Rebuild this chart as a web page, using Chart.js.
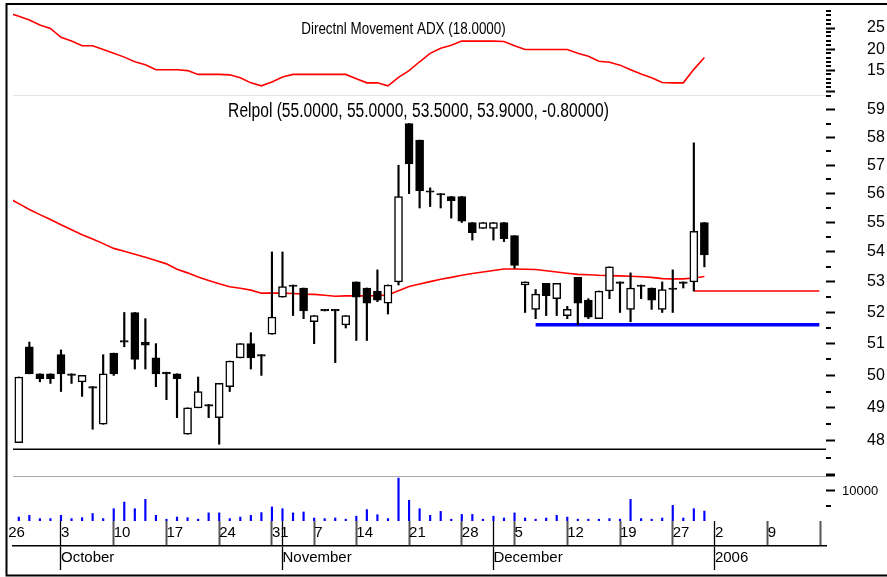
<!DOCTYPE html>
<html>
<head>
<meta charset="utf-8">
<title>Relpol</title>
<script src="https://cdn.jsdelivr.net/npm/chart.js@4.4.1/dist/chart.umd.min.js"></script>
<style>
html, body { margin: 0; padding: 0; background: #fff; }
#myChart { display: block; }
</style>
</head>
<body>
<canvas id="myChart" width="887" height="577"></canvas>
<script>
// trading days (x value = position in this list)
var dates = [
    '2005-09-26', '2005-09-27', '2005-09-28', '2005-09-29', '2005-09-30',
    '2005-10-03', '2005-10-04', '2005-10-05', '2005-10-06', '2005-10-07',
    '2005-10-10', '2005-10-11', '2005-10-12', '2005-10-13', '2005-10-14',
    '2005-10-17', '2005-10-18', '2005-10-19', '2005-10-20', '2005-10-21',
    '2005-10-24', '2005-10-25', '2005-10-26', '2005-10-27', '2005-10-28',
    '2005-10-31', '2005-11-02', '2005-11-03', '2005-11-04', '2005-11-07',
    '2005-11-08', '2005-11-09', '2005-11-10', '2005-11-14', '2005-11-15',
    '2005-11-16', '2005-11-17', '2005-11-18', '2005-11-21', '2005-11-22',
    '2005-11-23', '2005-11-24', '2005-11-25', '2005-11-28', '2005-11-29',
    '2005-11-30', '2005-12-01', '2005-12-02', '2005-12-05', '2005-12-06',
    '2005-12-07', '2005-12-08', '2005-12-09', '2005-12-12', '2005-12-13',
    '2005-12-14', '2005-12-15', '2005-12-16', '2005-12-19', '2005-12-20',
    '2005-12-21', '2005-12-22', '2005-12-23', '2005-12-27', '2005-12-28',
    '2005-12-29', '2005-12-30'
];

var open = [
    null, 47.95, 50.9, 50.05, 50.05, 50.65, 50.05, 49.8, 49.65, 48.5,
    50.7, 51.1, 52.0, 51.05, 50.55, 50.1, 50.05, 48.2, 49.0, 49.1,
    48.7, 49.65, 50.55, 51.0, 50.65, 51.3, 52.5, 52.9, 52.8, 51.7,
    52.1, 52.1, 51.6, 53.0, 52.8, 52.7, 52.3, 53.0, 58.5, 57.9,
    56.1, 56.0, 55.9, 55.9, 55.0, 54.8, 54.8, 55.0, 54.55, 52.9,
    52.1, 52.95, 52.45, 51.9, 53.15, 52.4, 51.8, 52.7, 53.0, 52.1,
    52.9, 52.8, 52.1, 52.8, 53.0, 53.0, 55.0
];
var high = [
    null, 49.95, 51.05, 50.05, 50.05, 50.8, 50.05, 50.0, 49.65, 50.65,
    50.7, 52.0, 52.0, 51.8, 51.0, 50.1, 50.05, 49.0, 49.95, 49.1,
    49.75, 50.45, 51.0, 51.35, 50.65, 54.0, 54.0, 52.9, 52.8, 51.9,
    52.1, 52.1, 51.9, 53.0, 52.8, 53.4, 52.9, 57.0, 58.5, 57.9,
    56.2, 56.0, 55.9, 55.9, 55.0, 55.0, 55.0, 55.0, 54.55, 53.0,
    52.75, 52.95, 52.95, 52.2, 53.15, 52.45, 52.7, 53.5, 53.0, 53.3,
    52.9, 52.8, 53.0, 53.4, 53.0, 57.8, 55.0
];
var low = [
    null, 47.95, 50.05, 49.8, 49.75, 49.5, 49.75, 49.35, 48.35, 48.5,
    50.0, 50.9, 50.2, 50.2, 49.65, 49.25, 48.7, 48.2, 49.0, 48.7,
    47.9, 49.5, 50.55, 50.2, 50.0, 51.3, 52.5, 51.9, 51.8, 51.0,
    52.05, 50.4, 51.5, 51.1, 51.1, 52.35, 51.95, 52.9, 56.0, 55.5,
    55.55, 55.5, 55.15, 55.0, 54.4, 54.8, 54.4, 54.35, 53.45, 52.0,
    51.8, 51.9, 51.9, 51.8, 51.6, 51.8, 51.8, 52.45, 52.0, 51.7,
    52.45, 52.1, 52.0, 52.0, 52.8, 52.7, 53.5
];
var close = [
    null, 49.95, 50.05, 49.9, 49.9, 50.05, 50.0, 50.0, 49.6, 50.05,
    50.05, 51.05, 50.5, 50.95, 50.05, 50.05, 49.9, 49.0, 49.5, 49.05,
    49.75, 50.45, 51.0, 50.55, 50.6, 51.85, 52.85, 52.85, 52.05, 51.9,
    52.05, 52.05, 51.9, 52.5, 52.3, 52.4, 52.9, 55.9, 57.05, 56.1,
    56.05, 55.95, 55.75, 55.05, 54.65, 55.0, 55.0, 54.45, 53.55, 53.0,
    52.6, 52.55, 52.95, 52.1, 52.3, 51.85, 52.7, 53.5, 52.95, 52.8,
    52.85, 52.4, 52.75, 52.75, 52.95, 54.7, 53.9
];
var volume = [
    null, 1300, 1900, 800, 800, 1900, 800, 1100, 2500, 800,
    4100, 6300, 4100, 7200, 1900, 600, 1300, 1100, 600, 2700,
    2700, 800, 1300, 1900, 2800, 4700, 4100, 2700, 3000, 1000,
    800, 1000, 600, 1600, 3800, 2100, 800, 14300, 6900, 4100,
    1900, 3200, 600, 2200, 2200, 600, 1600, 1000, 2700, 1000,
    600, 1000, 1900, 1300, 600, 600, 600, 800, 600, 7200,
    800, 600, 1000, 5200, 1000, 4100, 3300
];
// moving average drawn over the prices
var movAvg = [
    55.85, 55.65, 55.45, 55.27, 55.1, 54.92, 54.75, 54.58, 54.44, 54.28,
    54.12, 54.02, 53.92, 53.82, 53.71, 53.6, 53.42, 53.3, 53.16, 53.05,
    52.94, 52.84, 52.79, 52.73, 52.63, 52.63, 52.63, 52.62, 52.6, 52.59,
    52.56, 52.53, 52.54, 52.54, 52.54, 52.55, 52.57, 52.71, 52.85, 52.93,
    53.01, 53.09, 53.15, 53.22, 53.28, 53.33, 53.38, 53.43, 53.43, 53.42,
    53.41, 53.37, 53.33, 53.29, 53.25, 53.24, 53.22, 53.21, 53.2, 53.19,
    53.17, 53.15, 53.11, 53.1, 53.1, 53.13, 53.18
];
var adx = [
    28.6, 27.8, 26.9, 25.7, 24.9, 22.8, 21.9, 20.8, 20.8, 19.9,
    19.0, 18.1, 17.0, 16.3, 15.1, 15.1, 15.1, 14.9, 14.0, 14.0,
    14.0, 13.9, 13.2, 12.0, 11.3, 12.2, 13.4, 14.0, 14.0, 14.0,
    14.0, 14.0, 14.0, 13.0, 12.0, 12.0, 11.3, 13.3, 14.9, 17.0,
    19.0, 20.2, 20.9, 21.9, 21.9, 21.9, 21.9, 21.8, 20.8, 19.9,
    19.9, 19.9, 19.9, 19.9, 19.0, 18.3, 17.1, 16.9, 16.2, 15.1,
    14.1, 13.2, 12.1, 12.0, 12.0, 15.2, 18.0
];

// drawn horizontal lines: [from x, to x, price]
var blueLine = [50, 76.9, 51.6];
var redLine = [65, 76.9, 52.7];
var baseLine = [0, 78, 47.75];

// axis ticks
var dayTickPos = [0, 5, 10, 15, 20, 25, 26, 29, 33, 38, 43, 46, 48, 53, 58, 63, 67, 72, 77];
var dayTickLabels = ['26', '3', '10', '17', '24', '31', '', '7', '14', '21', '28', '', '5', '12', '19', '27', '2', '9', ''];
var monthTickPos = [5, 26, 46, 67];
var monthTickLabels = ['October', 'November', 'December', '2006'];
var priceTicks = [47, 48, 49, 50, 51, 52, 53, 54, 55, 56, 57, 58, 59];
var priceMinor = [47.5, 48.5, 49.5, 50.5, 51.5, 52.5, 53.5, 54.5, 55.5, 56.5, 57.5, 58.5, 59.5];
var adxTicks = [10, 15, 20, 25];
var volTicks = [10000, 15000];
var volMinor = [5000];

var fontFamily = "'Liberation Sans', Arial, sans-serif";
var xMin = 0.45, xMax = 77.53;

function pts(arr) {
    return arr.map(function (v, i) { return {x: i, y: v}; });
}
function hline(l) {
    return [{x: l[0], y: l[2]}, {x: l[1], y: l[2]}];
}

var wickData = [], bodyData = [], bodyFill = [], volData = [];
for (var i = 0; i < dates.length; i++) {
    if (open[i] === null) continue;
    wickData.push({x: i, y: [low[i], high[i]]});
    bodyData.push({x: i, y: [open[i], close[i]]});
    bodyFill.push(close[i] >= open[i] ? '#ffffff' : '#000000');
    volData.push({x: i, y: volume[i]});
}

var last = dates.length - 1;
var adxTitle = 'Directnl Movement ADX (' + adx[last].toFixed(4) + ')';
var priceTitle = 'Relpol (' + open[last].toFixed(4) + ', ' + high[last].toFixed(4) + ', ' +
    low[last].toFixed(4) + ', ' + close[last].toFixed(4) + ', ' + (close[last] - close[last - 1]).toFixed(5) + ')';

function drawMinor(c, scale, values, len) {
    values.forEach(function (v) {
        var y = Math.round(scale.getPixelForValue(v));
        c.fillRect(scale.left, y - 1, len, 2);
    });
}

// narrow text, like the original's condensed face
function narrowText(c, txt, x, y, size, squeeze) {
    c.save();
    c.font = size + 'px ' + fontFamily;
    c.translate(x, y);
    c.scale(squeeze, 1);
    c.fillText(txt, 0, 0);
    c.restore();
}

// separators, minor ticks, panel titles and the frame
var decor = {
    id: 'decor',
    afterDraw: function (chart) {
        var c = chart.ctx, a = chart.chartArea, s = chart.scales;
        c.save();
        c.fillStyle = '#e4e4e4';
        c.fillRect(a.left, Math.round(s.yAdx.bottom), a.right - a.left, 1);
        c.fillStyle = '#a8a8a8';
        c.fillRect(a.left, Math.round(s.yPrice.bottom) + 1, a.right - a.left, 1);

        c.fillStyle = '#000';
        var am = [];
        for (var v = 10; v <= 29; v++) if (adxTicks.indexOf(v) < 0) am.push(v);
        drawMinor(c, s.yAdx, am, 5);
        drawMinor(c, s.yPrice, priceMinor, 5);
        drawMinor(c, s.yVol, volMinor, 5);

        var mid = (a.left + a.right) / 2;
        c.textBaseline = 'middle';
        c.textAlign = 'center';
        narrowText(c, adxTitle, mid - 16, s.yAdx.top + 19, 17, 0.79);
        narrowText(c, priceTitle, mid - 1, s.yPrice.top + 17, 19.5, 0.8);

        c.strokeStyle = '#000';
        c.lineWidth = 2;
        c.beginPath();
        c.moveTo(887, 4); c.lineTo(6.5, 4); c.lineTo(6.5, 575.5); c.lineTo(887, 575.5);
        c.stroke();
        c.restore();
    }
};

function yAxis(extra) {
    var o = {
        position: 'right',
        stack: 'panels',
        border: {display: false},
        grid: {drawOnChartArea: false, drawTicks: true, tickLength: 9, tickColor: '#000', tickWidth: 2},
        afterFit: function (s) {
            s.width = 61;
            s.paddingTop = 0;
            s.paddingBottom = 0;
        }
    };
    for (var k in extra) o[k] = extra[k];
    return o;
}

Chart.defaults.font.family = fontFamily;
Chart.defaults.color = '#000';

const ctx = document.getElementById('myChart').getContext('2d');
const myChart = new Chart(ctx, {
    type: 'bar',
    data: {
        datasets: [{
            label: 'body',
            data: bodyData,
            yAxisID: 'yPrice',
            backgroundColor: bodyFill,
            borderColor: '#000',
            borderWidth: 1.5,
            borderSkipped: false,
            barThickness: 8,
            grouped: false,
            order: 0
        }, {
            label: 'wick',
            data: wickData,
            yAxisID: 'yPrice',
            backgroundColor: '#000',
            barThickness: 1.5,
            grouped: false,
            order: 1
        }, {
            label: 'Volume',
            data: volData,
            yAxisID: 'yVol',
            backgroundColor: '#0000ff',
            barThickness: 1.5,
            grouped: false,
            order: 1
        }, {
            type: 'line',
            label: 'MA',
            data: pts(movAvg),
            yAxisID: 'yPrice',
            borderColor: '#ff0000',
            borderWidth: 1.6,
            pointRadius: 0,
            order: 3
        }, {
            type: 'line',
            label: 'ADX',
            data: pts(adx),
            yAxisID: 'yAdx',
            borderColor: '#ff0000',
            borderWidth: 1.6,
            pointRadius: 0,
            order: 3
        }, {
            type: 'line',
            label: 'support',
            data: hline(blueLine),
            yAxisID: 'yPrice',
            borderColor: '#0000ff',
            borderWidth: 3.5,
            pointRadius: 0,
            order: 2
        }, {
            type: 'line',
            label: 'low',
            data: hline(redLine),
            yAxisID: 'yPrice',
            borderColor: '#ff0000',
            borderWidth: 1.5,
            pointRadius: 0,
            order: 2
        }, {
            type: 'line',
            label: 'base',
            data: hline(baseLine),
            yAxisID: 'yPrice',
            borderColor: '#000',
            borderWidth: 1.5,
            pointRadius: 0,
            order: 2
        }]
    },
    options: {
        responsive: false,
        animation: false,
        devicePixelRatio: 1,
        layout: {padding: {left: 13, top: 10, right: 0, bottom: 7}},
        plugins: {legend: {display: false}, tooltip: {enabled: false}},
        scales: {
            x: {
                type: 'linear',
                position: 'bottom',
                min: xMin,
                max: xMax,
                offset: false,
                border: {display: false},
                grid: {
                    offset: false,
                    drawOnChartArea: false,
                    tickLength: 25,
                    tickColor: function (c) {
                        var p = dayTickPos[c.index];
                        if (p === 0) return 'rgba(0,0,0,0)';
                        return monthTickPos.indexOf(p) >= 0 ? '#000' : '#555';
                    },
                    tickWidth: function (c) {
                        return monthTickPos.indexOf(dayTickPos[c.index]) >= 0 ? 1.3 : 2;
                    }
                },
                afterBuildTicks: function (s) {
                    s.ticks = dayTickPos.map(function (v) { return {value: v}; });
                },
                ticks: {
                    autoSkip: false, minRotation: 0, maxRotation: 0,
                    align: 'start', padding: -22,
                    font: {size: 15},
                    callback: function (v, i) { return dayTickLabels[i]; }
                },
                afterFit: function (s) {
                    s.height = 25;
                    s.paddingLeft = 0;
                    s.paddingRight = 0;
                }
            },
            xm: {
                type: 'linear',
                position: 'bottom',
                min: xMin,
                max: xMax,
                offset: false,
                border: {display: true, color: '#000', width: 1.5},
                grid: {offset: false, drawOnChartArea: false, tickLength: 24, tickColor: '#000', tickWidth: 1.3},
                afterBuildTicks: function (s) {
                    s.ticks = monthTickPos.map(function (v) { return {value: v}; });
                },
                ticks: {
                    autoSkip: false, minRotation: 0, maxRotation: 0,
                    align: 'start', padding: -21,
                    font: {size: 15},
                    callback: function (v, i) { return monthTickLabels[i]; }
                },
                afterFit: function (s) {
                    s.height = 24;
                    s.paddingLeft = 0;
                    s.paddingRight = 0;
                }
            },
            yAdx: yAxis({
                type: 'linear',
                min: 9.12,
                max: 29.27,
                stackWeight: 85,
                afterBuildTicks: function (s) {
                    s.ticks = adxTicks.map(function (v) { return {value: v}; });
                },
                ticks: {
                    autoSkip: false, padding: 32, font: {size: 16},
                    callback: function (v) { return v === 10 ? '' : String(v); }
                }
            }),
            yPrice: yAxis({
                type: 'logarithmic',
                min: 46.99,
                max: 59.55,
                stackWeight: 380,
                afterBuildTicks: function (s) {
                    s.ticks = priceTicks.map(function (v) { return {value: v}; });
                },
                ticks: {
                    autoSkip: false, padding: 32, font: {size: 16},
                    callback: function (v) { return v === 47 ? '' : String(v); }
                }
            }),
            yVol: yAxis({
                type: 'linear',
                min: 0,
                max: 15333,
                stackWeight: 46,
                afterBuildTicks: function (s) {
                    s.ticks = volTicks.map(function (v) { return {value: v}; });
                },
                ticks: {
                    autoSkip: false, padding: 7, font: {size: 13},
                    callback: function (v) { return v === 10000 ? '10000' : ''; }
                }
            })
        }
    },
    plugins: [decor]
});
</script>
</body>
</html>
